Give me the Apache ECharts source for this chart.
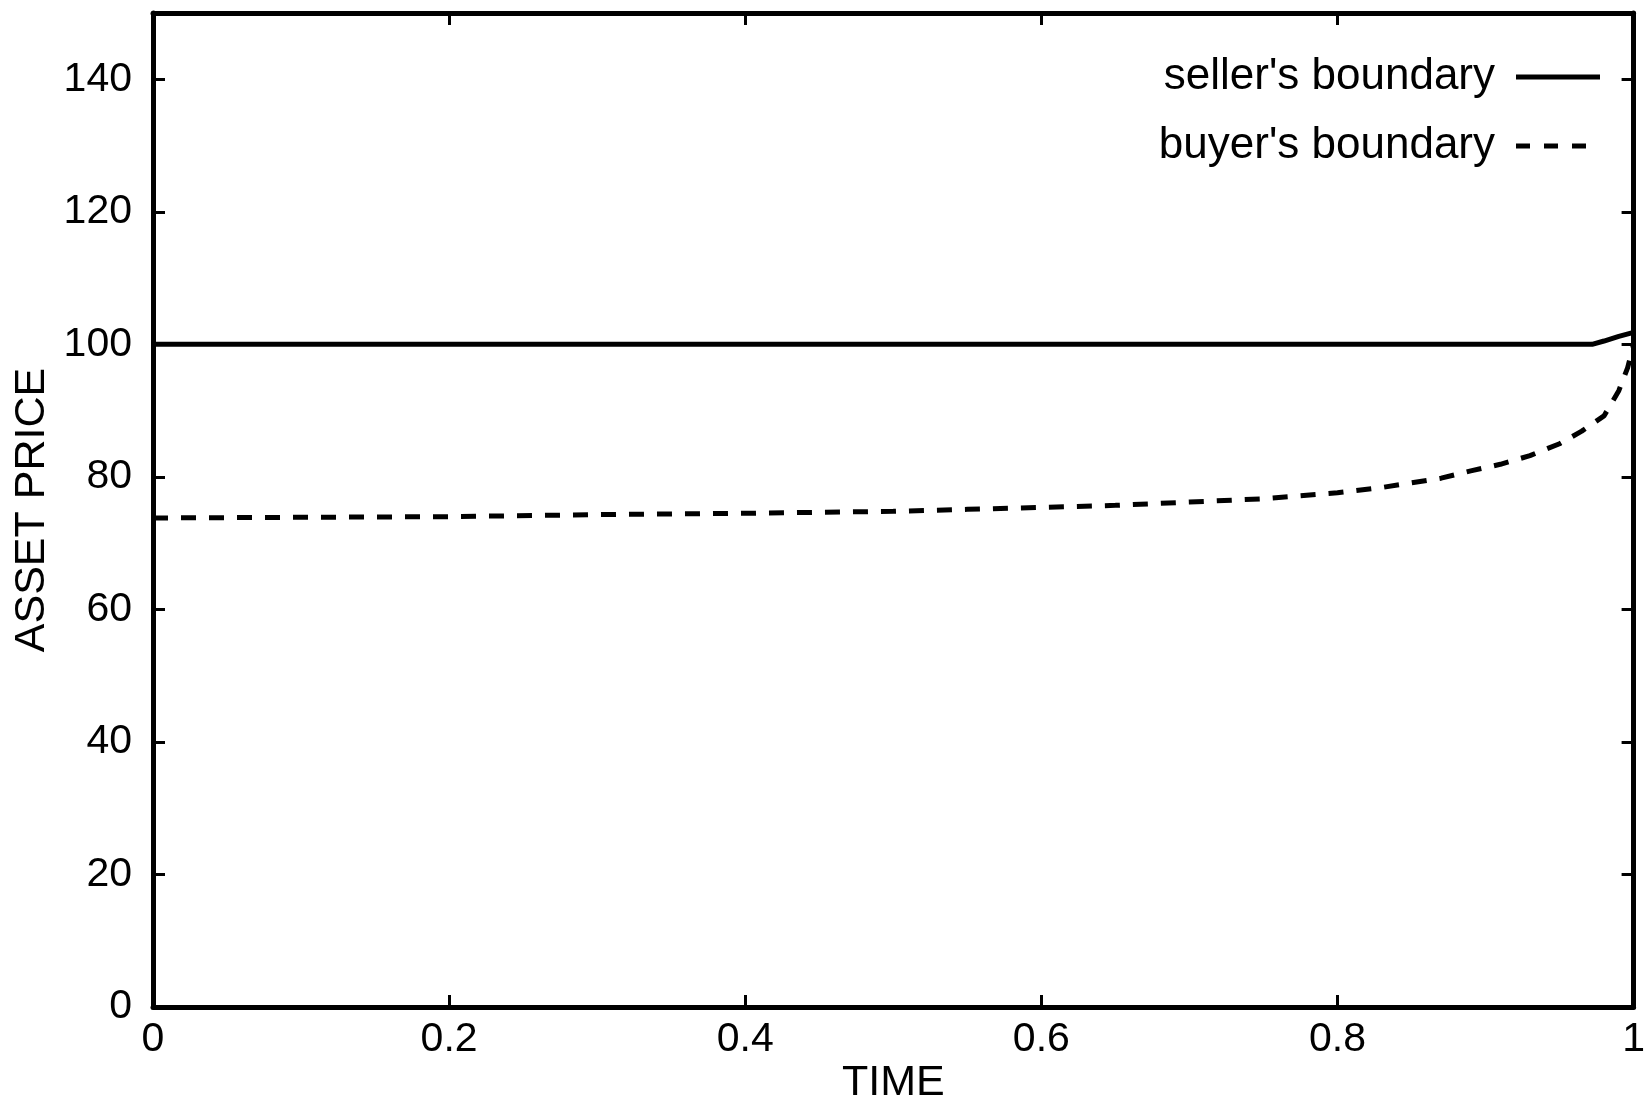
<!DOCTYPE html>
<html>
<head>
<meta charset="utf-8">
<title>Seller's and buyer's boundary</title>
<script src="https://cdn.jsdelivr.net/npm/echarts@6/dist/echarts.min.js"></script>
<style>
  html, body { margin: 0; padding: 0; background: #fff; }
  #chart { width: 1648px; height: 1110px; }
</style>
</head>
<body>
<div id="chart"></div>
<script>
// seller's boundary
const sellerTime  = [0, 0.2, 0.4, 0.6, 0.8, 0.9, 0.972, 0.98, 0.99, 1.0];
const sellerPrice = [100, 100, 100, 100, 100, 100, 100, 100.5, 101.2, 101.8];

// buyer's boundary
const buyerTime  = [0, 0.1, 0.2, 0.3, 0.4, 0.5, 0.55, 0.6, 0.65, 0.7, 0.75, 0.8, 0.83, 0.85, 0.87, 0.89, 0.91, 0.93, 0.95, 0.965, 0.98, 0.99, 0.996, 1.0];
const buyerPrice = [73.8, 73.9, 74.0, 74.3, 74.5, 74.8, 75.1, 75.4, 75.7, 76.2, 76.7, 77.6, 78.4, 79.1, 79.8, 80.9, 81.9, 83.2, 85.0, 86.9, 89.2, 93.0, 96.5, 100];

const xTicks = [0, 0.2, 0.4, 0.6, 0.8, 1];
const yTicks = [0, 20, 40, 60, 80, 100, 120, 140];

const font = 'Liberation Sans, Arial, Helvetica, sans-serif';
const pairs = (xs, ys) => xs.map((x, i) => [x, ys[i]]);

// legend samples like gnuplot's key: a solid bar and three dashes
const solidIcon = 'path://M0,0H84V5H0Z';
const dashIcon = 'path://M0,0H14V5H0Z M28,0H42V5H28Z M56,0H70V5H56Z M83.9,0H84V0.01H83.9Z';

const chart = echarts.init(document.getElementById('chart'));

const frameLine = { show: true, onZero: false, lineStyle: { color: '#000', width: 5 } };
const tick = { show: true, inside: true, length: 12, lineStyle: { color: '#000', width: 3 } };

chart.setOption({
  animation: false,
  backgroundColor: '#fff',
  grid: { left: 153, right: 11, top: 13, bottom: 101 },
  legend: {
    orient: 'vertical',
    right: 43,
    top: 50,
    align: 'right',
    itemWidth: 84,
    itemHeight: 5,
    itemGap: 25,
    itemStyle: { color: '#000' },
    textStyle: { fontFamily: font, fontSize: 44, color: '#000', padding: [0, 16, 0, 0] },
    data: [
      { name: "seller's boundary", icon: solidIcon },
      { name: "buyer's boundary", icon: dashIcon }
    ]
  },
  xAxis: [
    {
      type: 'value',
      min: xTicks[0],
      max: xTicks[xTicks.length - 1],
      interval: 0.2,
      name: 'TIME',
      nameLocation: 'middle',
      nameGap: 55,
      nameMoveOverlap: false,
      nameTextStyle: { fontFamily: font, fontSize: 43, color: '#000' },
      axisLine: frameLine,
      axisTick: tick,
      axisLabel: { fontFamily: font, fontSize: 41, color: '#000', margin: 12 },
      splitLine: { show: false }
    },
    {
      type: 'value',
      position: 'top',
      min: xTicks[0],
      max: xTicks[xTicks.length - 1],
      interval: 0.2,
      axisLine: frameLine,
      axisTick: tick,
      axisLabel: { show: false },
      splitLine: { show: false }
    }
  ],
  yAxis: [
    {
      type: 'value',
      min: 0,
      max: 150,
      interval: 20,
      name: 'ASSET PRICE',
      nameLocation: 'middle',
      nameGap: 99,
      nameMoveOverlap: false,
      nameTextStyle: { fontFamily: font, fontSize: 43, color: '#000' },
      axisLine: frameLine,
      axisTick: tick,
      axisLabel: {
        fontFamily: font, fontSize: 41, color: '#000', margin: 21,
        showMaxLabel: false,
        formatter: v => (yTicks.includes(v) ? String(v) : '')
      },
      splitLine: { show: false }
    },
    {
      type: 'value',
      position: 'right',
      min: 0,
      max: 150,
      interval: 20,
      axisLine: frameLine,
      axisTick: tick,
      axisLabel: { show: false },
      splitLine: { show: false }
    }
  ],
  series: [
    {
      name: "seller's boundary",
      type: 'line',
      symbol: 'none',
      data: pairs(sellerTime, sellerPrice),
      lineStyle: { color: '#000', width: 5, type: 'solid' },
      itemStyle: { color: '#000' }
    },
    {
      name: "buyer's boundary",
      type: 'line',
      symbol: 'none',
      data: pairs(buyerTime, buyerPrice),
      lineStyle: { color: '#000', width: 5, type: [15, 13] },
      itemStyle: { color: '#000' }
    }
  ]
});
</script>
</body>
</html>
